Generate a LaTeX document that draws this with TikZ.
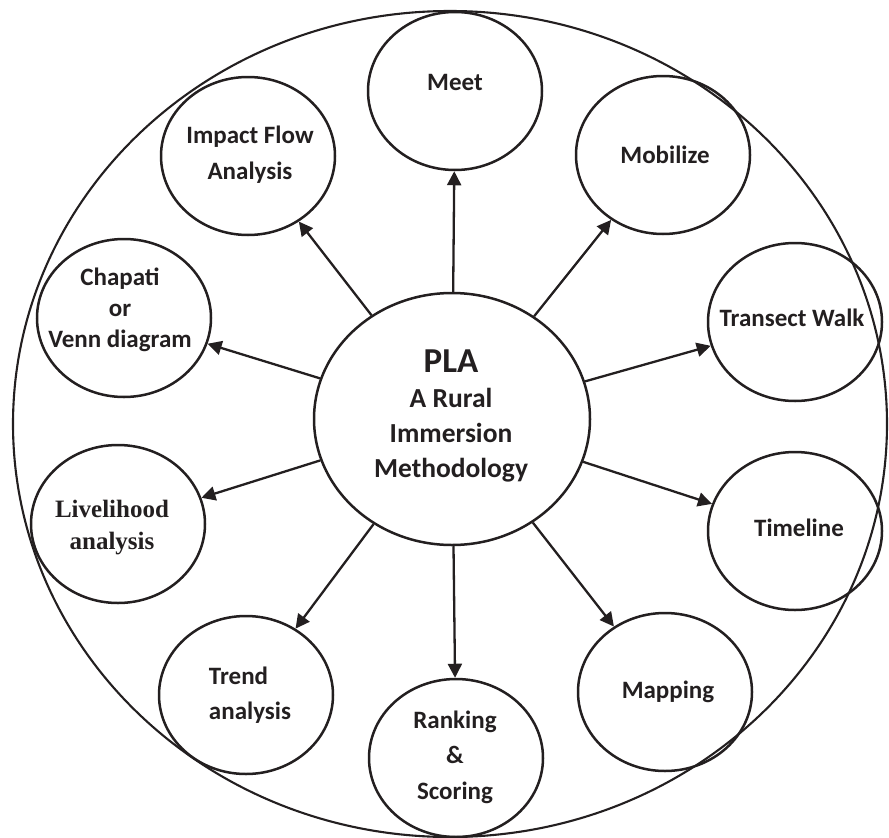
\documentclass[tikz,border=0pt]{standalone}
\usepackage{fontspec}
\setmainfont{Carlito}
\newfontfamily\serifbold{Liberation Serif}
\usetikzlibrary{shapes.geometric,arrows.meta}
\definecolor{ink}{RGB}{35,31,32}
\begin{document}
\begin{tikzpicture}[x=1pt,y=-1pt,
  frame/.style={draw=ink, ellipse, line width=2.1pt, inner sep=0pt, minimum width=874pt, minimum height=826pt},
  hub/.style={draw=ink, ellipse, line width=2.5pt, inner sep=0pt, minimum width=276pt, minimum height=252pt},
  ring/.style={draw=ink, ellipse, line width=2.5pt, inner sep=0pt, minimum width=174pt, minimum height=158pt},
  lbl/.style={font=\bfseries\fontsize{25}{35}\selectfont, align=center, inner sep=0pt, text=ink},
  arr/.style={draw=ink, line width=2.3pt, -{Triangle[length=14pt,width=14pt]}},
]
\useasboundingbox (0,0) rectangle (889,838);

% outer boundary
\node[frame] (outer) at (450,424) {};

% central hub
\node[hub] (pla) at (452,419) {};

% surrounding methods
\node[ring] (meet)   at (455,91)  {};
\node[ring] (impact) at (248,156) {};
\node[ring] (mobil)  at (663,155) {};
\node[ring] (chap)   at (124,318) {};
\node[ring] (trans)  at (795,322) {};
\node[ring] (live)   at (118,524) {};
\node[ring] (time)   at (795,531) {};
\node[ring] (trend)  at (246,695) {};
\node[ring] (rank)   at (456,758) {};
\node[ring] (map)    at (665,692) {};

% connectors from the hub
\foreach \t in {meet,impact,mobil,chap,trans,live,time,trend,rank,map}
  \draw[arr] (pla) -- (\t);

% labels
\node[lbl, font=\bfseries\fontsize{27.5}{35}\selectfont] (pla-t) at (451,416)
  {{\fontsize{35}{36}\selectfont PLA}\\A Rural\\Immersion\\Methodology};
\node[lbl] (meet-t)   at (455,82)  {Meet};
\node[lbl, font=\bfseries\fontsize{25}{36}\selectfont] (impact-t) at (250,155) {Impact Flow\\Analysis};
\node[lbl] (mobil-t)  at (665,155) {Mobilize};
\node[lbl, font=\bfseries\fontsize{25}{31}\selectfont] (chap-t) at (120,310) {Chapati\\or\\Venn diagram};
\node[lbl] (trans-t)  at (792,318) {Transect Walk};
\node[lbl, font=\serifbold\bfseries\fontsize{25}{32}\selectfont] (live-t) at (112,528) {Livelihood\\analysis};
\node[lbl] (time-t)   at (799,528) {Timeline};
\node[lbl, align=left] (trend-t) at (250,695) {Trend\\analysis};
\node[lbl, font=\bfseries\fontsize{25}{35.5}\selectfont] (rank-t) at (455,757) {Ranking\\\&\\Scoring};
\node[lbl] (map-t)    at (668,692) {Mapping};
\end{tikzpicture}
\end{document}
